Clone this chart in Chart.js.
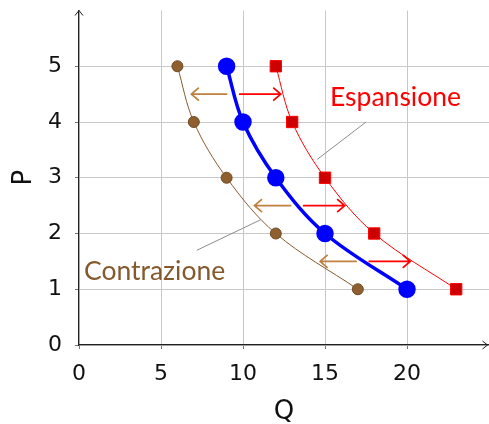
<!DOCTYPE html>
<html>
<head>
<meta charset="utf-8">
<script src="https://cdn.jsdelivr.net/npm/chart.js@4.4.1/dist/chart.umd.min.js"></script>
<style>
  html, body { margin: 0; padding: 0; background: #fff; overflow: hidden; }
  #wrap { width: 489px; height: 424px; }
  canvas { display: block; }
</style>
</head>
<body>
<div id="wrap"><canvas id="c"></canvas></div>
<script>
// dati
const prezzi = [5, 4, 3, 2, 1];
const qContrazione = [6, 7, 9, 12, 17];
const qIniziale = [9, 10, 12, 15, 20];
const qEspansione = [12, 13, 15, 18, 23];

const xTicks = [0, 5, 10, 15, 20];
const yTicks = [0, 1, 2, 3, 4, 5];

// frecce (y, da, a)
const frecceY = [4.5, 2.5, 1.5];
const frecceSxDa = [9, 12.9, 16.9];
const frecceSxA = [6.85, 10.7, 14.7];
const frecceDxDa = [9.8, 13.7, 17.7];
const frecceDxA = [12.3, 16.2, 20.2];

const BROWN = '#86592d';
const BROWN_ARROW = '#bf8040';

function punti(qs) {
  return qs.map((q, i) => ({ x: q, y: prezzi[i] }));
}

// etichette e linee di richiamo (in unita' dei dati)
const etichette = [
  { text: 'Espansione', x: 19.3, y: 4.29, color: '#ff0000', pin: [17.5, 4.0, 14.53, 3.33] },
  { text: 'Contrazione', x: 4.61, y: 1.17, color: BROWN, pin: [7.19, 1.70, 11.1, 2.25] }
];

function freccia(ctx, x1, y, x2, color, lw) {
  const dir = x2 > x1 ? 1 : -1;
  ctx.save();
  ctx.strokeStyle = color;
  ctx.lineWidth = lw;
  ctx.lineCap = 'round';
  ctx.lineJoin = 'round';
  ctx.beginPath();
  ctx.moveTo(x1, y);
  ctx.lineTo(x2, y);
  ctx.moveTo(x2 - dir * 7, y - 6);
  ctx.lineTo(x2, y);
  ctx.lineTo(x2 - dir * 7, y + 6);
  ctx.stroke();
  ctx.restore();
}

function azzeraPadding(s) {
  s.paddingLeft = 0; s.paddingRight = 0; s.paddingTop = 0; s.paddingBottom = 0;
}

// l'asse x deve arrivare fino al bordo destro della tela
const allarga = {
  id: 'allarga',
  afterLayout(chart) {
    const x = chart.scales.x;
    const ca = chart.chartArea;
    x.right = chart.width;
    x.width = x.right - x.left;
    x.configure();
    ca.right = chart.width;
    ca.width = ca.right - ca.left;
  }
};

const extra = {
  id: 'extra',
  afterDatasetsDraw(chart) {
    const { ctx, scales: { x, y }, chartArea } = chart;
    // frecce
    frecceY.forEach((fy, i) => {
      const py = y.getPixelForValue(fy);
      freccia(ctx, x.getPixelForValue(frecceSxDa[i]), py, x.getPixelForValue(frecceSxA[i]), BROWN_ARROW, 1.8);
      freccia(ctx, x.getPixelForValue(frecceDxDa[i]), py, x.getPixelForValue(frecceDxA[i]), '#ff0000', 1.8);
    });
    // etichette
    etichette.forEach(e => {
      ctx.save();
      ctx.strokeStyle = '#8c8c8c';
      ctx.lineWidth = 1;
      ctx.beginPath();
      ctx.moveTo(x.getPixelForValue(e.pin[0]), y.getPixelForValue(e.pin[1]));
      ctx.lineTo(x.getPixelForValue(e.pin[2]), y.getPixelForValue(e.pin[3]));
      ctx.stroke();
      ctx.fillStyle = e.color;
      ctx.font = '26.5px Lato';
      ctx.textAlign = 'center';
      ctx.textBaseline = 'alphabetic';
      ctx.fillText(e.text, x.getPixelForValue(e.x), y.getPixelForValue(e.y));
      ctx.restore();
    });
    // punte degli assi
    ctx.save();
    ctx.strokeStyle = '#222';
    ctx.lineWidth = 1;
    const ax = x.getPixelForValue(0), ay = y.getPixelForValue(0);
    const fine = Math.min(chartArea.right, chart.width) - 1.5;
    ctx.beginPath();
    ctx.moveTo(ax - 4, chartArea.top + 5);
    ctx.lineTo(ax, chartArea.top);
    ctx.lineTo(ax + 4, chartArea.top + 5);
    ctx.moveTo(fine - 5, ay - 4);
    ctx.lineTo(fine, ay);
    ctx.lineTo(fine - 5, ay + 4);
    ctx.stroke();
    ctx.restore();
  }
};

new Chart(document.getElementById('c'), {
  type: 'scatter',
  data: {
    datasets: [
      {
        data: punti(qContrazione),
        showLine: true,
        borderColor: BROWN,
        borderWidth: 1,
        tension: 0.35,
        pointStyle: 'circle',
        pointRadius: 5.5,
        pointBackgroundColor: '#8f5f30',
        pointBorderColor: '#6e4a25',
        pointBorderWidth: 1
      },
      {
        data: punti(qContrazione),
        showLine: false,
        pointStyle: 'crossRot',
        pointRadius: 4,
        pointBorderColor: '#5c3d1e',
        pointBorderWidth: 0.8
      },
      {
        data: punti(qIniziale),
        showLine: true,
        borderColor: '#0000ff',
        borderWidth: 3.5,
        tension: 0.35,
        pointStyle: 'circle',
        pointRadius: 7,
        pointBackgroundColor: '#0000ff',
        pointBorderColor: '#0000ff'
      },
      {
        data: punti(qEspansione),
        showLine: true,
        borderColor: '#ff0000',
        borderWidth: 1,
        tension: 0.35,
        pointStyle: 'rect',
        pointRadius: 8,
        pointBackgroundColor: '#cc0000',
        pointBorderColor: '#ff0000',
        pointBorderWidth: 1
      }
    ]
  },
  options: {
    responsive: true,
    maintainAspectRatio: false,
    animation: false,
    layout: { padding: { top: 8, left: 0, right: 0, bottom: 0 } },
    plugins: { legend: { display: false }, tooltip: { enabled: false } },
    scales: {
      x: {
        type: 'linear',
        min: 0,
        max: 25,
        afterBuildTicks: s => { s.ticks = xTicks.map(v => ({ value: v })); },
        afterFit: s => { s.height = 79; azzeraPadding(s); },
        grid: { color: '#c8c8c8', lineWidth: 1, tickLength: 4, tickColor: '#777' },
        border: { display: true, color: '#222', width: 1.2 },
        ticks: { color: '#111', font: { family: 'DejaVu Sans', size: 22 }, padding: 12, maxRotation: 0 },
        title: { display: true, text: 'Q', color: '#111', font: { family: 'DejaVu Sans', size: 26 }, padding: { top: 0, bottom: -4 } }
      },
      y: {
        type: 'linear',
        min: 0,
        max: 6,
        afterBuildTicks: s => { s.ticks = yTicks.map(v => ({ value: v })); },
        afterFit: s => { s.width = 79; azzeraPadding(s); },
        grid: { color: '#c8c8c8', lineWidth: 1, tickLength: 4, tickColor: '#777' },
        border: { display: true, color: '#222', width: 1.2 },
        ticks: { color: '#111', font: { family: 'DejaVu Sans', size: 22 }, padding: 13 },
        title: { display: true, text: 'P', color: '#111', font: { family: 'DejaVu Sans', size: 26 }, padding: { top: 9, bottom: 0 } }
      }
    }
  },
  plugins: [allarga, extra]
});
</script>
</body>
</html>
